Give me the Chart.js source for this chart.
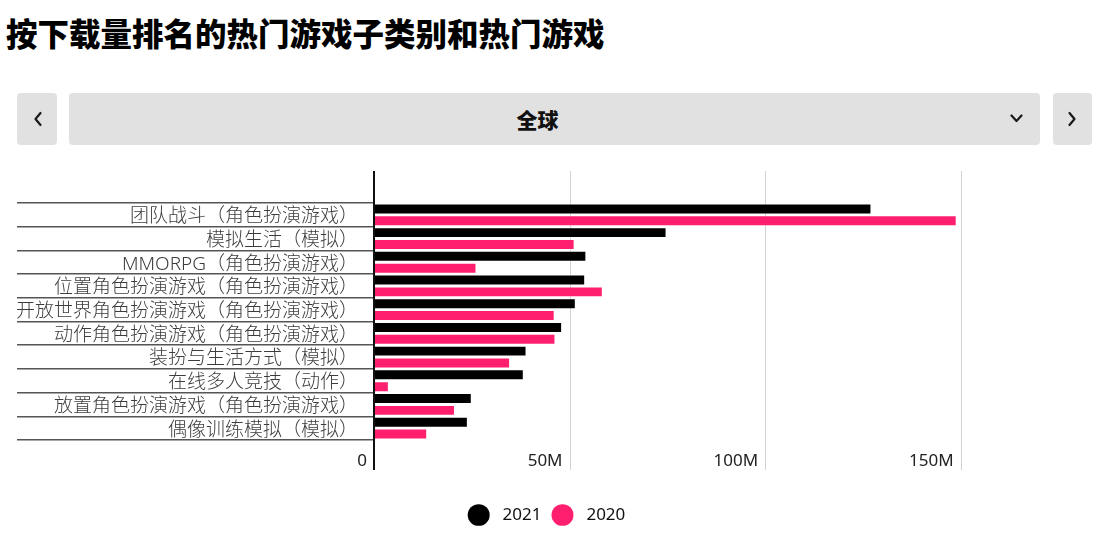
<!DOCTYPE html>
<html>
<head>
<meta charset="utf-8">
<script src="https://cdn.jsdelivr.net/npm/chart.js@4.4.1/dist/chart.umd.min.js"></script>
<style>
  html,body{margin:0;padding:0;background:#fff;}
  body{width:1099px;height:558px;overflow:hidden;position:relative;font-family:"Noto Sans","Noto Sans CJK SC",sans-serif;}
  #title{position:absolute;left:6px;top:14px;font-family:"Noto Sans CJK SC",sans-serif;font-size:31.5px;line-height:36px;font-weight:900;color:#000;white-space:nowrap;}
  .nav{position:absolute;top:93px;height:52px;background:#e1e1e1;border-radius:4px;}
  #navL{left:17px;width:40px;}
  #navM{left:69px;width:971px;}
  #navR{left:1053px;width:39px;}
  #region{position:absolute;left:0;width:1075px;top:93px;height:52px;line-height:52px;text-align:center;font-family:"Noto Sans CJK SC",sans-serif;font-size:21px;font-weight:900;color:#111;}
  svg.ic{position:absolute;left:0;top:0;}
  #wrap{position:absolute;left:0;top:160px;width:1099px;height:398px;}
</style>
</head>
<body>
<div id="title">按下载量排名的热门游戏子类别和热门游戏</div>
<div class="nav" id="navL"></div>
<div class="nav" id="navM"></div>
<div class="nav" id="navR"></div>
<div id="region">全球</div>
<svg class="ic" width="1099" height="160">
  <polyline points="40.5,113 35.5,119 40.5,125" fill="none" stroke="#1a1a1a" stroke-width="2.2" stroke-linecap="round" stroke-linejoin="round"/>
  <polyline points="1011.5,115.5 1016.5,121 1021.5,115.5" fill="none" stroke="#1a1a1a" stroke-width="2.2" stroke-linecap="round" stroke-linejoin="round"/>
  <polyline points="1069.5,113 1074.5,119 1069.5,125" fill="none" stroke="#1a1a1a" stroke-width="2.2" stroke-linecap="round" stroke-linejoin="round"/>
</svg>
<div id="wrap"><canvas id="c"></canvas></div>
<script>
// ---- data (downloads, millions) ----
const categories = [
  '团队战斗（角色扮演游戏）',
  '模拟生活（模拟）',
  'MMORPG（角色扮演游戏）',
  '位置角色扮演游戏（角色扮演游戏）',
  '开放世界角色扮演游戏（角色扮演游戏）',
  '动作角色扮演游戏（角色扮演游戏）',
  '装扮与生活方式（模拟）',
  '在线多人竞技（动作）',
  '放置角色扮演游戏（角色扮演游戏）',
  '偶像训练模拟（模拟）'
];
const downloads2021 = [127.2, 74.8, 54.3, 54.0, 51.6, 48.1, 39.0, 38.3, 25.0, 24.0];
const downloads2020 = [149.0, 51.3, 26.2, 58.5, 46.2, 46.4, 34.8, 3.8, 20.7, 13.6];
const seriesNames = ['2021', '2020'];
const tickValues = [0, 50, 100, 150];
const tickLabels = ['0', '50M', '100M', '150M'];

const extendedGrid = {
  id: 'extendedGrid',
  beforeDatasetsDraw(chart) {
    const {ctx, chartArea, scales: {x}} = chart;
    ctx.save();
    x.ticks.forEach(t => {
      if (t.value === 0) return;
      const px = Math.round(x.getPixelForValue(t.value)) + 0.5;
      ctx.beginPath();
      ctx.lineWidth = 1;
      ctx.strokeStyle = '#d2d2d2';
      ctx.moveTo(px, chartArea.top - 32);
      ctx.lineTo(px, chartArea.bottom + 30);
      ctx.stroke();
    });
    ctx.restore();
  },
  afterDatasetsDraw(chart) {
    const {ctx, chartArea, scales: {x}} = chart;
    const px = Math.round(x.getPixelForValue(0));
    ctx.save();
    ctx.beginPath();
    ctx.lineWidth = 2;
    ctx.strokeStyle = '#111';
    ctx.moveTo(px, chartArea.top - 32);
    ctx.lineTo(px, chartArea.bottom + 30);
    ctx.stroke();
    ctx.restore();
  }
};

new Chart(document.getElementById('c'), {
  type: 'bar',
  data: {
    labels: categories,
    datasets: [
      { label: seriesNames[0], data: downloads2021, backgroundColor: '#000000', borderColor: 'rgba(255,255,255,0.45)', borderWidth: 1 },
      { label: seriesNames[1], data: downloads2020, backgroundColor: '#ff1f6e', borderColor: 'rgba(255,255,255,0.45)', borderWidth: 1 }
    ]
  },
  options: {
    indexAxis: 'y',
    responsive: true,
    maintainAspectRatio: false,
    animation: false,
    events: [],
    layout: { padding: { left: 17, right: 23, top: 43, bottom: 24.5 } },
    datasets: { bar: { categoryPercentage: 1.0, barPercentage: 0.92 } },
    scales: {
      x: {
        type: 'linear',
        position: 'bottom',
        min: 0,
        max: 179.5,
        afterBuildTicks(scale) {
          scale.ticks = tickValues.map(v => ({ value: v }));
        },
        grid: { display: false },
        border: { display: false },
        ticks: {
          align: 'end',
          labelOffset: -7,
          padding: 3,
          color: '#222',
          font: { family: '"Noto Sans", sans-serif', size: 17 },
          callback: (v, i) => tickLabels[i]
        },
        afterFit(scale) { scale.height = 56.5; }
      },
      y: {
        type: 'category',
        offset: true,
        grid: { offset: true, drawOnChartArea: false, tickLength: 357, color: '#555', lineWidth: 1.5 },
        border: { display: false },
        ticks: {
          autoSkip: false,
          padding: -341,
          labelOffset: 2,
          color: '#3c3c3c',
          font: { family: '"Noto Sans", "Noto Sans CJK SC", sans-serif', size: 19, weight: '300' }
        },
        afterFit(scale) { scale.width = 357; }
      }
    },
    plugins: {
      legend: {
        position: 'bottom',
        labels: {
          usePointStyle: true,
          pointStyle: 'circle',
          boxHeight: 15.3,
          pointStyleWidth: 22,
          padding: 10,
          color: '#111',
          font: { family: '"Noto Sans", sans-serif', size: 17 },
          generateLabels(chart) {
            return chart.data.datasets.map((ds, i) => ({
              text: ' ' + ds.label,
              fillStyle: ds.backgroundColor,
              strokeStyle: ds.backgroundColor,
              lineWidth: 0,
              pointStyle: 'circle',
              fontColor: '#111',
              hidden: false,
              datasetIndex: i
            }));
          }
        }
      },
      tooltip: { enabled: false }
    }
  },
  plugins: [extendedGrid]
});
</script>
</body>
</html>
